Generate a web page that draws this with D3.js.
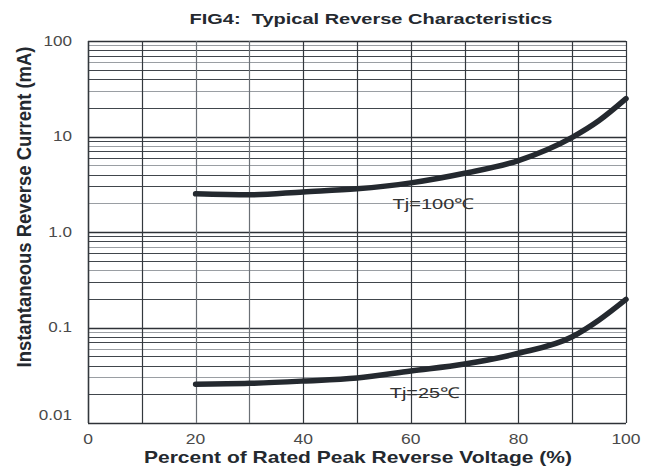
<!DOCTYPE html>
<html>
<head>
<meta charset="utf-8">
<script src="https://d3js.org/d3.v7.min.js"></script>
<style>
  body { margin: 0; background: #fff; }
  text { font-family: "Liberation Sans", Arial, sans-serif; }
</style>
</head>
<body>
<div id="chart"></div>
<script>
// Data
const voltagePct = [20, 30, 40, 50, 60, 70, 80, 90, 95, 100];
const current100 = [2.51, 2.45, 2.63, 2.83, 3.27, 4.12, 5.6, 9.8, 14.7, 24.9];
const current25 = [0.0255, 0.026, 0.0275, 0.0296, 0.0351, 0.0415, 0.0537, 0.080, 0.12, 0.197];
const xTicks = [0, 20, 40, 60, 80, 100];
const yTicks = [100, 10, 1, 0.1, 0.01];
const yTickLabels = ["100", "10", "1.0", "0.1", "0.01"];
const seriesLabels = ["Tj=100\u2103", "Tj=25\u2103"];

// Set dimensions and margins for the chart
const margin = { top: 41, right: 26, bottom: 45, left: 88 };
const width = 652 - margin.left - margin.right;
const height = 468 - margin.top - margin.bottom;

const x = d3.scaleLinear().domain([0, 100]).range([0, width]);
const y = d3.scaleLog().domain([0.01, 100]).range([height, 0]);

// the scanned figure is stretched sideways, so widen the glyphs a bit
function widen(sel, k) {
  sel.each(function () {
    const w = this.getComputedTextLength();
    d3.select(this).attr("textLength", w * k).attr("lengthAdjust", "spacingAndGlyphs");
  });
}

const svg = d3.select("#chart")
  .append("svg")
  .attr("width", width + margin.left + margin.right)
  .attr("height", height + margin.top + margin.bottom)
  .append("g")
  .attr("transform", `translate(${margin.left},${margin.top})`);

// Horizontal gridlines (log minor + decades)
const minor = y.ticks().filter(d => yTicks.indexOf(d) < 0);
svg.selectAll(".yMinor")
  .data(minor)
  .join("line")
  .attr("x1", 0).attr("x2", width)
  .attr("y1", d => Math.round(y(d)) + 0.5)
  .attr("y2", d => Math.round(y(d)) + 0.5)
  .attr("stroke", (d, i) => i % 3 === 1 ? "#9a9ea3" : "#41464c")
  .attr("stroke-width", 1);

svg.selectAll(".yMajor")
  .data(yTicks)
  .join("line")
  .attr("x1", 0).attr("x2", width)
  .attr("y1", d => Math.round(y(d)) + 0.5)
  .attr("y2", d => Math.round(y(d)) + 0.5)
  .attr("stroke", "#2e3237")
  .attr("stroke-width", 1.3);

// Vertical gridlines every 10%
svg.selectAll(".xGrid")
  .data(d3.range(0, 101, 10))
  .join("line")
  .attr("x1", d => Math.round(x(d)) + 0.5)
  .attr("x2", d => Math.round(x(d)) + 0.5)
  .attr("y1", 0).attr("y2", height)
  .attr("stroke", d => d === 20 || d === 30 ? "#6b7076" : "#33383d")
  .attr("stroke-width", d => d === 0 ? 1.6 : 1.2);

// Y tick labels
svg.selectAll(".yLabel")
  .data(yTicks)
  .join("text")
  .attr("x", -16)
  .attr("y", (d, i) => y(d) + (i === yTicks.length - 1 ? -8 : 0))
  .attr("dy", "0.35em")
  .attr("text-anchor", "end")
  .style("font-size", "14px")
  .style("fill", "#4a4a4a")
  .text((d, i) => yTickLabels[i])
  .call(widen, 1.22);

// X tick labels
svg.selectAll(".xLabel")
  .data(xTicks)
  .join("text")
  .attr("x", d => x(d))
  .attr("y", height + 21)
  .attr("text-anchor", "middle")
  .style("font-size", "14px")
  .style("fill", "#4a4a4a")
  .text(d => d)
  .call(widen, 1.25);

// Curves
const line = d3.line()
  .x(d => x(d[0]))
  .y(d => y(d[1]))
  .curve(d3.curveMonotoneX);

[current100, current25].forEach(series => {
  svg.append("path")
    .datum(voltagePct.map((v, i) => [v, series[i]]))
    .attr("fill", "none")
    .attr("stroke", "#24292f")
    .attr("stroke-width", 5.5)
    .attr("stroke-linecap", "round")
    .attr("d", line);
});

// Series labels
svg.append("text")
  .attr("x", x(56.6)).attr("y", y(current100[0]) + 15)
  .attr("textLength", 82).attr("lengthAdjust", "spacingAndGlyphs")
  .style("font-size", "15px").style("fill", "#333")
  .text(seriesLabels[0]);
svg.append("text")
  .attr("x", x(56.1)).attr("y", y(current25[0]) + 14)
  .attr("textLength", 70).attr("lengthAdjust", "spacingAndGlyphs")
  .style("font-size", "15px").style("fill", "#333")
  .text(seriesLabels[1]);

// Title
svg.append("text")
  .attr("x", 283)
  .attr("y", -17)
  .attr("text-anchor", "middle")
  .attr("textLength", 363).attr("lengthAdjust", "spacingAndGlyphs")
  .attr("xml:space", "preserve")
  .style("font-size", "15.5px")
  .style("font-weight", "bold")
  .style("fill", "#24292f")
  .text("FIG4:  Typical Reverse Characteristics");

// X axis title
svg.append("text")
  .attr("x", 270)
  .attr("y", height + 40)
  .attr("text-anchor", "middle")
  .attr("textLength", 428).attr("lengthAdjust", "spacingAndGlyphs")
  .style("font-size", "16.5px")
  .style("font-weight", "bold")
  .style("fill", "#24292f")
  .text("Percent of Rated Peak Reverse Voltage (%)");

// Y axis title (rotated, glyph height stretched like the scan)
svg.append("g")
  .attr("transform", `translate(-57,166) scale(1.25,1) rotate(-90)`)
  .append("text")
  .attr("x", 0)
  .attr("y", 0)
  .attr("text-anchor", "middle")
  .attr("textLength", 321).attr("lengthAdjust", "spacingAndGlyphs")
  .style("font-size", "16px")
  .style("font-weight", "bold")
  .style("fill", "#24292f")
  .text("Instantaneous Reverse Current (mA)");
</script>
</body>
</html>
